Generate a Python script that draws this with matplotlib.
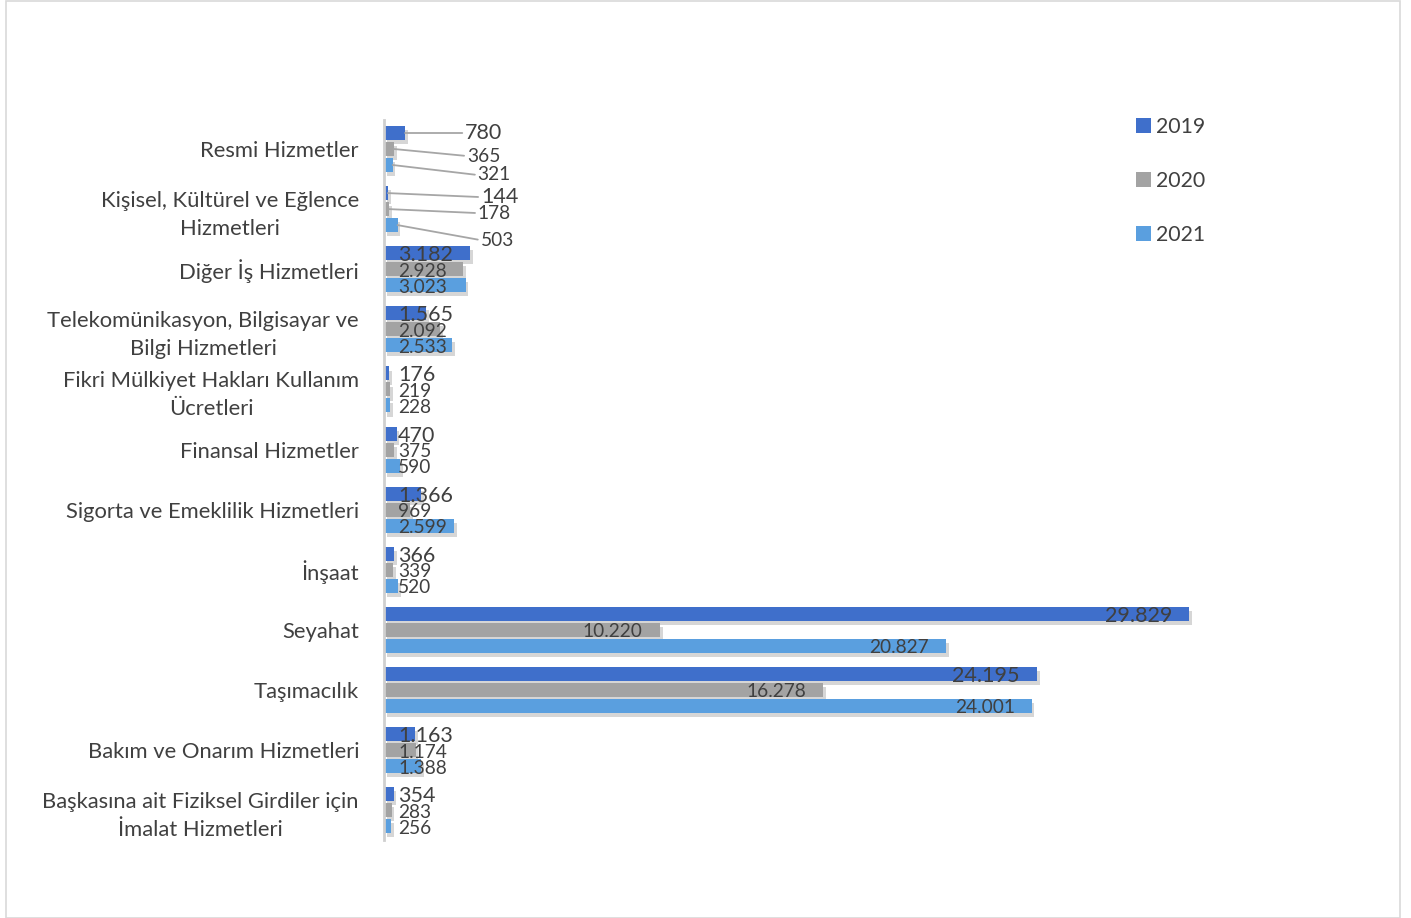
import matplotlib
matplotlib.use("Agg")
import matplotlib.pyplot as plt
import matplotlib.patheffects as pe
from matplotlib.patches import Rectangle

plt.rcParams['font.family'] = ['Lato', 'DejaVu Sans']

categories = [
    "Resmi Hizmetler",
    "Kişisel, Kültürel ve Eğlence\nHizmetleri",
    "Diğer İş Hizmetleri",
    "Telekomünikasyon, Bilgisayar ve\nBilgi Hizmetleri",
    "Fikri Mülkiyet Hakları Kullanım\nÜcretleri",
    "Finansal Hizmetler",
    "Sigorta ve Emeklilik Hizmetleri",
    "İnşaat",
    "Seyahat",
    "Taşımacılık",
    "Bakım ve Onarım Hizmetleri",
    "Başkasına ait Fiziksel Girdiler için\nİmalat Hizmetleri",
]
years = ["2019", "2020", "2021"]
v2019 = [780, 144, 3182, 1565, 176, 470, 1366, 366, 29829, 24195, 1163, 354]
v2020 = [365, 178, 2928, 2092, 219, 375, 969, 339, 10220, 16278, 1174, 283]
v2021 = [321, 503, 3023, 2533, 228, 590, 2599, 520, 20827, 24001, 1388, 256]
series = [v2019, v2020, v2021]
colors = ["#3F6FCB", "#A3A3A3", "#5A9FDF"]
label_sizes = [15.5, 13.8, 13.8]

def fmt(v):
    return f"{v:,}".replace(",", ".")

W, H = 1411, 918
fig = plt.figure(figsize=(W / 100, H / 100), dpi=100)
fig.patches.append(Rectangle((6 / W, 0), (1400 - 6) / W, 1 - 1 / H, transform=fig.transFigure,
                             fill=False, edgecolor="#d9d9d9", lw=1.2))

px_per_unit = 805 / 29829
xmax = 30500
left_px, top_px, bot_px = 384, 120, 840
ax = fig.add_axes([left_px / W, 1 - bot_px / H, xmax * px_per_unit / W, (bot_px - top_px) / H])
pitch = 60.1
ax.set_xlim(0, xmax)
ax.set_ylim((bot_px - 149) / pitch, -(149 - top_px) / pitch)

offs = [-16 / pitch, 0, 16 / pitch]
bh = 14 / pitch
shadow = [pe.SimplePatchShadow(offset=(2, -3), shadow_rgbFace="black", alpha=0.16), pe.Normal()]

# leader-line label offsets (pixels from bar end) for the first two categories
leader = {
    (0, 0): (60, 0), (0, 1): (73, -7), (0, 2): (85, -10),
    (1, 0): (93, -4), (1, 1): (89, -4), (1, 2): (83, -15),
}
txtc = "#404040"
for s, (vals, col) in enumerate(zip(series, colors)):
    ys = [i + offs[s] for i in range(len(categories))]
    bars = ax.barh(ys, vals, height=bh, color=col, label=years[s], zorder=2)
    for b in bars:
        b.set_path_effects(shadow)
    fs = label_sizes[s]
    for i, v in enumerate(vals):
        y = ys[i]
        if (i, s) in leader:
            dx, dy = leader[(i, s)]
            ax.annotate(fmt(v), xy=(v, y), xytext=(dx, dy), textcoords="offset pixels",
                        ha="left", va="center", fontsize=fs, color=txtc,
                        arrowprops=dict(arrowstyle="-", color="#a6a6a6", lw=1.3,
                                        shrinkA=0, shrinkB=0, relpos=(0, 0.5)))
        elif v >= 10000:
            ax.annotate(fmt(v), xy=(v, y), xytext=(-17, -2), textcoords="offset pixels",
                        ha="right", va="center", fontsize=fs, color=txtc, zorder=3)
        else:
            ax.annotate(fmt(v), xy=(0, y), xytext=(14, -2), textcoords="offset pixels",
                        ha="left", va="center", fontsize=fs, color=txtc, zorder=3)

ax.set_yticks(range(len(categories)))
ax.set_yticklabels(categories, fontsize=15.8, color=txtc, linespacing=1.48)
for lab in ax.get_yticklabels():
    lab.set_multialignment("center")
ax.tick_params(axis="y", length=0, pad=18)
ax.set_xticks([])
for sp in ["top", "right", "bottom"]:
    ax.spines[sp].set_visible(False)
ax.spines["left"].set_color("#cfcfcf")
ax.spines["left"].set_linewidth(2)
ax.set_facecolor("none")

leg = fig.legend(loc="upper left", bbox_to_anchor=(1117 / W, 1 - 98 / H), frameon=False,
                 fontsize=15.3, handlelength=0.7, handleheight=0.7, handletextpad=0.25,
                 labelspacing=1.6, labelcolor=txtc)
for h in leg.legend_handles:
    h.set_path_effects([])

fig.savefig("out.png", dpi=100)
